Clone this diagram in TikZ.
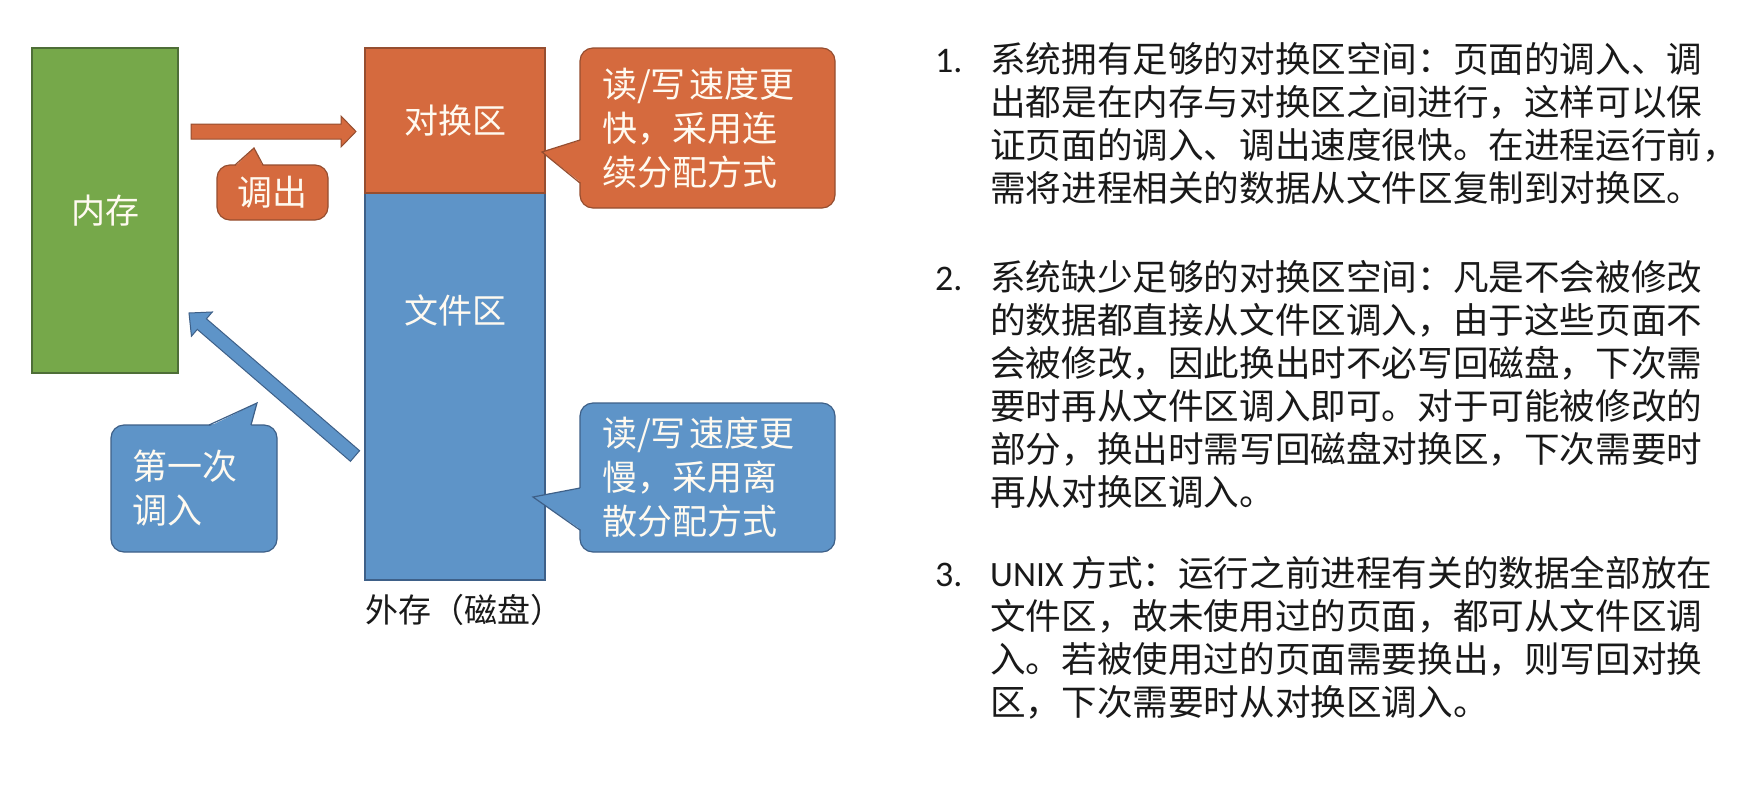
\documentclass[tikz,border=0pt]{standalone}
\usepackage{fontspec}
\setmainfont{Noto Sans CJK SC}
\newfontfamily\latfont{Carlito}
\usetikzlibrary{calc}
\definecolor{orfill}{RGB}{213,106,62}
\definecolor{ordraw}{RGB}{150,78,48}
\definecolor{blfill}{RGB}{94,148,200}
\definecolor{bldraw}{RGB}{62,96,136}
\definecolor{grfill}{RGB}{118,168,74}
\definecolor{grdraw}{RGB}{78,110,55}
\definecolor{shtext}{RGB}{255,250,240}
\definecolor{bodytext}{RGB}{25,25,25}
\newcommand\blkarrow[6]{%
  \coordinate (#2h) at ($(#3)!#6!(#2)$);
  \draw[#1] ($(#2)!#4!90:(#3)$) -- ($(#2h)!#4!90:(#3)$) -- ($(#2h)!#5!90:(#3)$) -- (#3)
    -- ($(#2h)!#5!-90:(#3)$) -- ($(#2h)!#4!-90:(#3)$) -- ($(#2)!#4!-90:(#3)$) -- cycle;
}
\begin{document}
\begin{tikzpicture}[x=1pt,y=-1pt,
  box/.style={draw, line width=1.2pt, inner sep=0pt, text=shtext, font=\fontsize{34}{40}\selectfont},
  callout/.style={rectangle, rounded corners=13pt, draw, line width=1.2pt, inner sep=0pt, text=shtext, align=left, font=\fontsize{35}{44}\selectfont},
  ptr/.style={line width=1.2pt, line join=miter},
  rtext/.style={anchor=west, inner sep=0pt, text=bodytext, font=\fontsize{35.6}{43}\selectfont, text height=0.88em, text depth=0.12em},
  rnum/.style={rtext, font=\latfont\fontsize{36}{43}\selectfont}
]
\useasboundingbox[fill=white] (0,0) rectangle (1739,785);

% main blocks
\node[box, fill=grfill, draw=grdraw, minimum width=146pt, minimum height=325pt] (mem) at (105,210.5) {内存};
\node[box, fill=blfill, draw=bldraw, minimum width=180pt, minimum height=387pt] (file) at (455,386.5) {};
\node[box, fill=orfill, draw=ordraw, minimum width=180pt, minimum height=145pt] (swap) at (455,120.5) {对换区};
\node[box, draw=none, fill=none] (filelbl) at (455,310) {文件区};
\node[anchor=west, inner sep=0pt, text=bodytext, font=\fontsize{33}{40}\selectfont] (disk) at (365,610) {外存（磁盘）};

% block arrows
\coordinate (oaS) at (191,131.5);
\coordinate (oaT) at (356,131.5);
\blkarrow{fill=orfill, draw=ordraw, line width=1pt, line join=miter}{oaS}{oaT}{7.5pt}{15.5pt}{15pt}
\coordinate (baS) at (355,456);
\coordinate (baT) at (189,313);
\blkarrow{fill=blfill, draw=bldraw, line width=1pt, line join=miter}{baS}{baT}{7pt}{16pt}{17pt}

% callout: 调出
\node[callout, fill=orfill, draw=ordraw, minimum width=111pt, minimum height=55pt] (out) at (272.5,192.5) {调出};
\fill[orfill] (235,166.5) -- (254,148) -- (263,166.5) -- cycle;
\draw[ptr, ordraw] (235,165) -- (254,148) -- (263,165);

% callout: 第一次调入
\node[callout, fill=blfill, draw=bldraw, minimum width=166pt, minimum height=127pt, text width=124pt] (first) at (194,488.5) {第一次\\调入};
\fill[blfill] (209,426.5) -- (257,403) -- (251,426.5) -- cycle;
\draw[ptr, bldraw] (209,425) -- (257,403) -- (251,425);

% callout: swap area
\node[callout, fill=orfill, draw=ordraw, minimum width=255pt, minimum height=160pt, text width=211pt] (fast) at (707.5,128) {读/写\hspace{0.12em}速度更\\快，采用连\\续分配方式};
\fill[orfill] (581.5,140) -- (542,152) -- (581.5,183) -- cycle;
\draw[ptr, ordraw] (580,140) -- (542,152) -- (580,183);

% callout: file area
\node[callout, fill=blfill, draw=bldraw, minimum width=255pt, minimum height=149pt, text width=211pt] (slow) at (707.5,477.5) {读/写\hspace{0.12em}速度更\\慢，采用离\\散分配方式};
\fill[blfill] (581.5,488) -- (533,497) -- (581.5,530) -- cycle;
\draw[ptr, bldraw] (580,488) -- (533,497) -- (580,530);

% right text
\node[rnum] (n1) at (935,69) {1.};
\node[rtext] (p1a) at (990,69) {系统拥有足够的对换区空间：页面的调入、调};
\node[rtext] (p1b) at (990,112) {出都是在内存与对换区之间进行，这样可以保};
\node[rtext] (p1c) at (990,155) {证页面的调入、调出速度很快。在进程运行前，};
\node[rtext] (p1d) at (990,198) {需将进程相关的数据从文件区复制到对换区。};

\node[rnum] (n2) at (935,287) {2.};
\node[rtext] (p2a) at (990,287) {系统缺少足够的对换区空间：凡是不会被修改};
\node[rtext] (p2b) at (990,330) {的数据都直接从文件区调入，由于这些页面不};
\node[rtext] (p2c) at (990,373) {会被修改，因此换出时不必写回磁盘，下次需};
\node[rtext] (p2d) at (990,416) {要时再从文件区调入即可。对于可能被修改的};
\node[rtext] (p2e) at (990,459) {部分，换出时需写回磁盘对换区，下次需要时};
\node[rtext] (p2f) at (990,502) {再从对换区调入。};

\node[rnum] (n3) at (935,583) {3.};
\node[rtext] (p3a) at (990,583) {{\latfont UNIX }方式：运行之前进程有关的数据全部放在};
\node[rtext] (p3b) at (990,626) {文件区，故未使用过的页面，都可从文件区调};
\node[rtext] (p3c) at (990,669) {入。若被使用过的页面需要换出，则写回对换};
\node[rtext] (p3d) at (990,712) {区，下次需要时从对换区调入。};
\end{tikzpicture}
\end{document}
